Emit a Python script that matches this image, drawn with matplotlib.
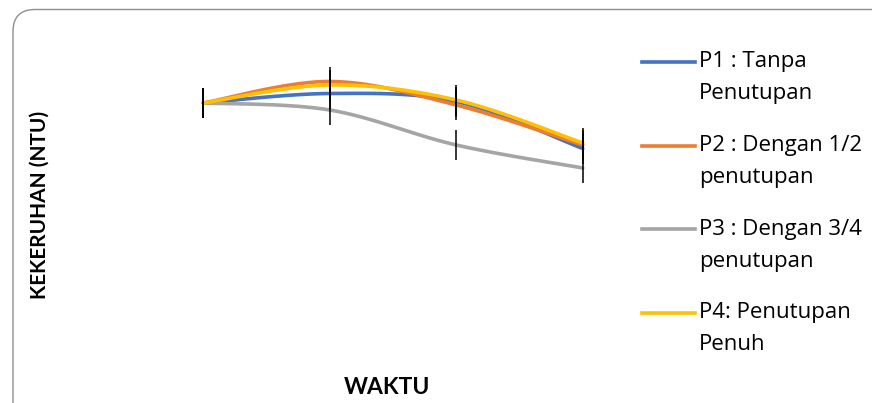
import numpy as np
import matplotlib
matplotlib.use("Agg")
import matplotlib.pyplot as plt
from matplotlib.patches import FancyBboxPatch
from matplotlib.lines import Line2D

# turbidity readings per treatment over four sampling times
times = [0, 1, 2, 3]
p1 = [10.0, 10.95, 10.15, 5.45]
p2 = [10.0, 12.15, 9.8, 5.8]
p3 = [10.0, 9.3, 5.8, 3.5]
p4 = [10.0, 11.8, 10.3, 6.0]
err = [1.5, 1.5, 1.5, 1.5]

labels = [["P1 : Tanpa", "Penutupan"],
          ["P2 : Dengan 1/2", "penutupan"],
          ["P3 : Dengan 3/4", "penutupan"],
          ["P4: Penutupan", "Penuh"]]
colors = ["#4472C4", "#ED7D31", "#A5A5A5", "#FFC000"]
series = [p1, p2, p3, p4]


def smooth(x, y, n=40):
    # excel-style smoothed line: cubic bezier through each pair of points
    pts = np.column_stack([x, y]).astype(float)
    out = []
    for i in range(len(pts) - 1):
        p0 = pts[i - 1] if i > 0 else pts[i]
        p1_, p2_ = pts[i], pts[i + 1]
        p3_ = pts[i + 2] if i + 2 < len(pts) else pts[i + 1]
        c1 = p1_ + (p2_ - p0) / 6
        c2 = p2_ - (p3_ - p1_) / 6
        t = np.linspace(0, 1, n)[:, None]
        seg = ((1 - t) ** 3 * p1_ + 3 * (1 - t) ** 2 * t * c1
               + 3 * (1 - t) * t ** 2 * c2 + t ** 3 * p2_)
        out.append(seg if i == 0 else seg[1:])
    out = np.vstack(out)
    return out[:, 0], out[:, 1]


W, H = 872, 403
fig = plt.figure(figsize=(W / 100, H / 100), dpi=100)

# overlay in pixel units for the frame, titles and legend
bg = fig.add_axes([0, 0, 1, 1])
bg.set_xlim(0, W)
bg.set_ylim(H, 0)
bg.axis("off")
frame = FancyBboxPatch((13, 9.5), 880, 420, boxstyle="round,pad=0,rounding_size=22",
                       fc="white", ec="#8f8f8f", lw=1.0)
bg.add_patch(frame)

# plot area
left, right, top, bottom = 140, 646, 20, 370
ax = fig.add_axes([left / W, 1 - bottom / H, (right - left) / W, (bottom - top) / H])
ax.set_xlim(-0.5, 3.5)
ax.set_ylim(-16.7, 18.3)
ax.axis("off")

for ys, c in zip(series, colors):
    sx, sy = smooth(times, ys)
    ax.plot(sx, sy, color=c, lw=2.6, solid_capstyle="round", zorder=2)
for ys in series:
    ax.errorbar(times, ys, yerr=err, fmt="none", ecolor="black", elinewidth=1.1,
                capsize=0, zorder=3)

bold = dict(family=["Lato", "DejaVu Sans"], weight="bold", color="black")
bg.text(40, 205, "KEKERUHAN (NTU)", rotation=90, ha="center", va="center",
        fontsize=15, **bold)
bg.text(387, 387, "WAKTU", ha="center", va="center", fontsize=16.5, **bold)

for i, (lab, c) in enumerate(zip(labels, colors)):
    y0 = 62 + i * 83.5
    bg.add_line(Line2D([642, 695], [y0, y0], color=c, lw=2.6))
    bg.text(699, y0, lab[0], ha="left", va="center", fontsize=16,
            family=["Open Sans", "DejaVu Sans"], color="black")
    bg.text(699, y0 + 32, lab[1], ha="left", va="center", fontsize=16,
            family=["Open Sans", "DejaVu Sans"], color="black")

fig.savefig("out.png", dpi=100)
